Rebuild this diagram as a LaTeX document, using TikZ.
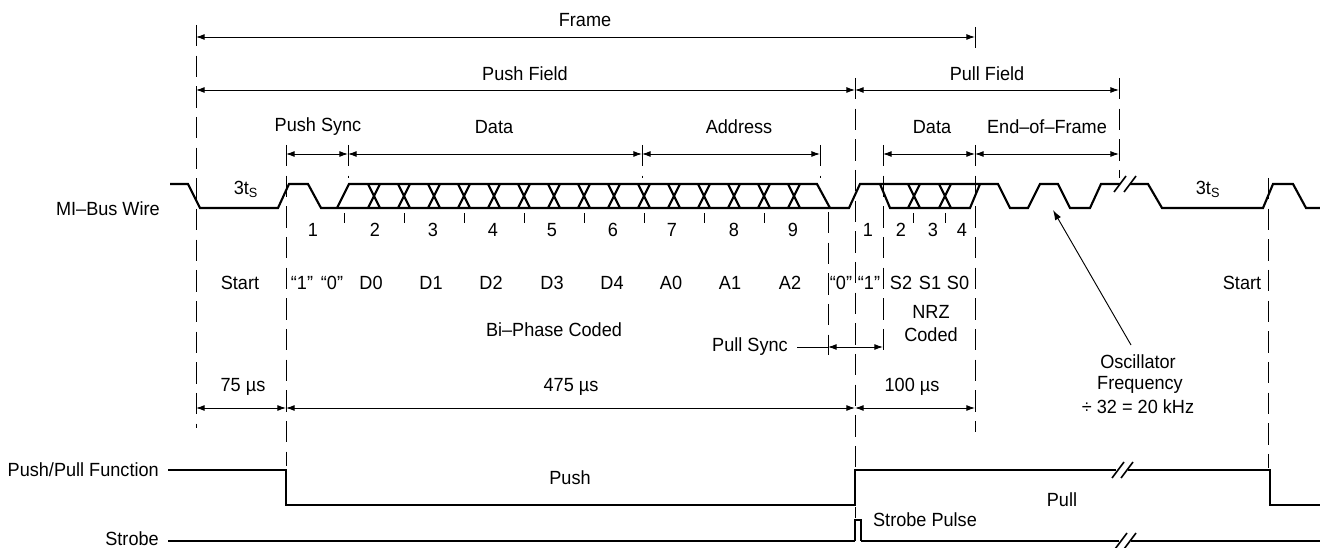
\documentclass[tikz,border=0pt]{standalone}
\usepackage{fontspec}
\setmainfont{Liberation Sans}[FakeStretch=0.95]
\usetikzlibrary{arrows.meta}
\begin{document}
\begin{tikzpicture}[x=0.75pt,y=-0.75pt,
  wave/.style={line width=1.6pt, line join=miter},
  thinwave/.style={line width=1.1pt},
  dim/.style={line width=0.7pt, {Latex[length=6.5pt,width=4.5pt]}-{Latex[length=6.5pt,width=4.5pt]}},
  leader/.style={line width=0.7pt, -{Latex[length=7.5pt,width=5pt]}},
  guide/.style={line width=0.7pt, dash pattern=on 16pt off 7pt},
  tickmark/.style={line width=0.7pt},
  brk/.style={line width=1.2pt},
  lbl/.style={inner sep=0pt, font=\fontsize{14.3pt}{16pt}\selectfont}]
\useasboundingbox (0,0) rectangle (1320,548);

% ---------- guide lines ----------
\draw[guide] (196,25) -- (196,428);
\draw[guide] (286,145) -- (286,466);
\draw[guide] (348,145) -- (348,178);
\draw[guide] (642,145) -- (642,178);
\draw[guide] (820,145) -- (820,178);
\draw[guide] (828,212) -- (828,355);
\draw[guide] (855,78) -- (855,518);
\draw[guide] (883,145) -- (883,355);
\draw[guide] (975,27) -- (975,48);
\draw[guide] (975,145) -- (975,432);
\draw[guide] (1119,78) -- (1119,178);
\draw[guide] (1268,178) -- (1268,468);
\foreach \t in {344,404,464,524,584,644,704,764,913,945}
  \draw[tickmark] (\t,213) -- (\t,223);

% ---------- dimension arrows ----------
\coordinate (f0) at (196,37); \coordinate (f1) at (975,37);
\draw[dim] (f0) -- (f1);
\node[lbl] (tframe) at (585,20) {Frame};
\coordinate (pf0) at (196,90); \coordinate (pf1) at (855,90); \coordinate (pf2) at (1119,90);
\draw[dim] (pf0) -- (pf1);
\draw[dim] (pf1) -- (pf2);
\node[lbl] (tpush) at (525,74) {Push Field};
\node[lbl] (tpull) at (987,74) {Pull Field};
\coordinate (s0) at (286,154); \coordinate (s1) at (348,154); \coordinate (s2) at (642,154);
\coordinate (s3) at (820,154); \coordinate (s4) at (883,154); \coordinate (s5) at (975,154);
\coordinate (s6) at (1119,154);
\draw[dim] (s0) -- (s1);
\draw[dim] (s1) -- (s2);
\draw[dim] (s2) -- (s3);
\draw[dim] (s4) -- (s5);
\draw[dim] (s5) -- (s6);
\node[lbl] (tps) at (318,127) {Push Sync};
\node[lbl] (td1) at (494,127) {Data};
\node[lbl] (tad) at (739,127) {Address};
\node[lbl] (td2) at (932,127) {Data};
\node[lbl] (teof) at (1047,127) {End–of–Frame};

\coordinate (m0) at (196,408); \coordinate (m1) at (286,408);
\coordinate (m2) at (855,408); \coordinate (m3) at (975,408);
\draw[dim] (m0) -- (m1);
\draw[dim] (m1) -- (m2);
\draw[dim] (m2) -- (m3);
\node[lbl] (t75) at (243,387) {75 µs};
\node[lbl] (t475) at (571,387) {475 µs};
\node[lbl] (t100) at (912,387) {100 µs};

% Pull sync
\coordinate (ps0) at (828,347); \coordinate (ps1) at (883,347);
\node[lbl, anchor=east] (tpsync) at (788,347) {Pull Sync};
\draw[line width=0.7pt] (tpsync.east) ++(9,0) -- (ps0);
\draw[dim] (ps0) -- (ps1);

% Oscillator
\node[lbl] (tosc) at (1138,362) {Oscillator};
\node[lbl] (tfreq) at (1140,385) {Frequency};
\node[lbl] (tdiv) at (1138,407) {÷ 32 = 20 kHz};
\coordinate (otail) at (1131,345); \coordinate (otip) at (1053,210);
\draw[leader] (otail) -- (otip);

% ---------- MI-Bus waveform ----------
\node[lbl, anchor=east] (tmi) at (160,209) {MI–Bus Wire};
\draw[wave] (170,184) -- (188,184) -- (200,208) -- (278,208) -- (289,184) -- (308,184)
  -- (321,208) -- (849,208) -- (860,184) -- (998,184) -- (1010,208) -- (1028,208)
  -- (1040,184) -- (1058,184) -- (1070,208) -- (1090,208) -- (1101,184) -- (1120,184);
\draw[wave] (337,208) -- (349,184) -- (817,184) -- (830,208);
\foreach \c in {374,404,...,794} {
  \draw[wave] (\c-6,184) -- (\c+6,208);
  \draw[wave] (\c-6,208) -- (\c+6,184);
}
\draw[wave] (880,184) -- (890,208) -- (970,208) -- (980,184);
\foreach \c in {914,945} {
  \draw[wave] (\c-6,184) -- (\c+6,208);
  \draw[wave] (\c-6,208) -- (\c+6,184);
}
\draw[wave] (1130,184) -- (1148,184) -- (1162,208) -- (1263,208) -- (1273,184)
  -- (1293,184) -- (1306,208) -- (1320,208);
\draw[brk] (1114,192) -- (1126,176);
\draw[brk] (1124,192) -- (1136,176);

\node[lbl] (ts1) at (246,189) {3t\textsubscript{S}};
\node[lbl] (ts2) at (1208,189) {3t\textsubscript{S}};

% bit numbers
\foreach \x/\n in {313/1,375/2,433/3,493/4,552/5,613/6,672/7,734/8,793/9,868/1,901/2,933/3,962/4}
  \node[lbl] at (\x,230) {\n};

% field labels
\foreach \x/\s in {240/Start,302/“1”,332/“0”,371/D0,431/D1,491/D2,552/D3,612/D4,671/A0,730/A1,790/A2,841/“0”,869/“1”,901/S2,930/S1,958/S0,1242/Start}
  \node[lbl] at (\x,283) {\s};
\node[lbl] (tnrz) at (931,312) {NRZ};
\node[lbl] (tcod) at (931,335) {Coded};
\node[lbl] (tbi) at (554,330) {Bi–Phase Coded};

% ---------- Push/Pull function ----------
\node[lbl, anchor=east] (tppf) at (159,470) {Push/Pull Function};
\draw[wave] (168,470) -- (286,470) -- (286,505) -- (855,505) -- (855,470) -- (1116,470);
\draw[wave] (1128,470) -- (1270,470) -- (1270,505) -- (1320,505);
\draw[brk] (1112,478) -- (1124,462);
\draw[brk] (1121,478) -- (1133,462);
\node[lbl] (tpushl) at (570,478) {Push};
\node[lbl] (tpulll) at (1062,500) {Pull};

% ---------- Strobe ----------
\node[lbl, anchor=east] (tstr) at (159,539) {Strobe};
\draw[wave] (168,541) -- (855,541);
\draw[thinwave] (855,541) -- (855,520) -- (861,520) -- (861,541);
\draw[wave] (861,541) -- (1119,541);
\draw[wave] (1131,541) -- (1320,541);
\draw[brk] (1115,549) -- (1127,533);
\draw[brk] (1124,549) -- (1136,533);
\node[lbl] (tsp) at (925,520) {Strobe Pulse};
\end{tikzpicture}
\end{document}
